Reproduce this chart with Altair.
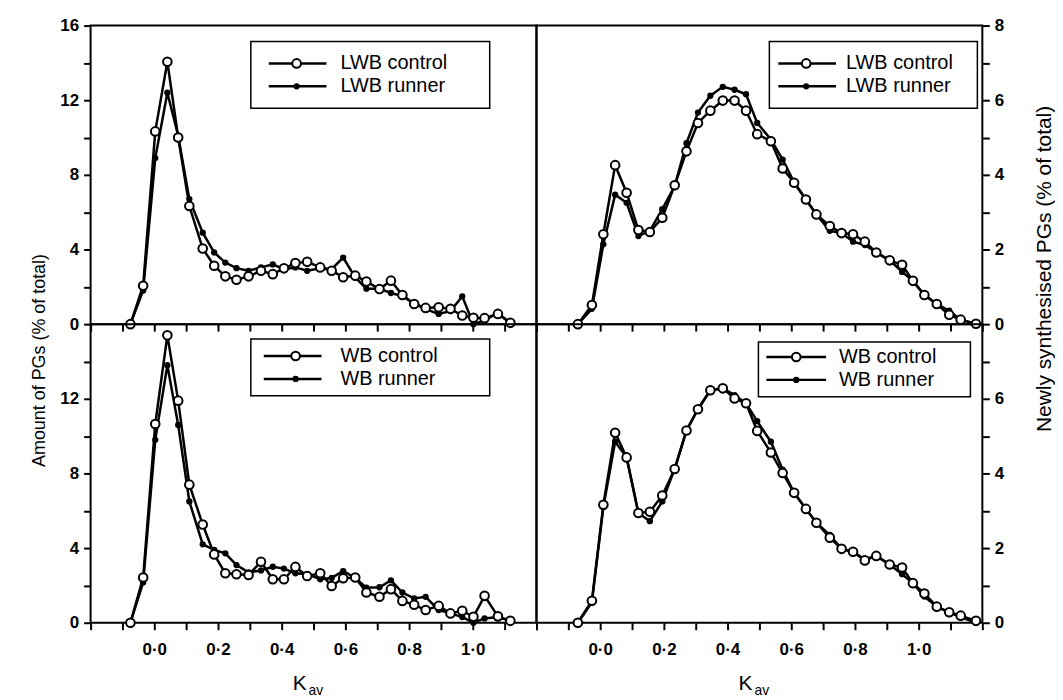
import altair as alt
import pandas as pd

# ---------------- data ----------------
KAV_LEFT = [-0.075, -0.035, 0.003, 0.041, 0.075, 0.11, 0.152, 0.188, 0.223, 0.258,
            0.296, 0.335, 0.372, 0.407, 0.443, 0.48, 0.521, 0.557, 0.593, 0.631,
            0.666, 0.707, 0.743, 0.779, 0.816, 0.852, 0.893, 0.93, 0.967, 1.002,
            1.037, 1.079, 1.118]
LWB_CTRL_AMT = [0, 2.06, 10.33, 14.06, 10.0, 6.33, 4.05, 3.13, 2.56, 2.38,
                2.56, 2.86, 2.68, 2.99, 3.27, 3.34, 3.04, 2.86, 2.51, 2.6,
                2.28, 1.88, 2.33, 1.56, 1.08, 0.87, 0.9, 0.82, 0.46, 0.34,
                0.32, 0.55, 0.07]
LWB_RUN_AMT = [0, 1.8, 8.9, 12.4, 10.1, 6.7, 4.9, 3.84, 3.3, 3.0,
               2.86, 3.04, 3.2, 2.95, 3.04, 2.86, 3.0, 2.95, 3.57, 2.5,
               1.9, 1.9, 1.67, 1.5, 1.1, 0.8, 0.55, 0.7, 1.49, 0.0,
               0.2, 0.6, 0.05]
WB_CTRL_AMT = [0, 2.42, 10.65, 15.4, 11.9, 7.4, 5.26, 3.66, 2.65, 2.6,
               2.56, 3.27, 2.33, 2.33, 2.99, 2.5, 2.65, 1.97, 2.38, 2.42,
               1.62, 1.39, 1.8, 1.17, 0.96, 0.68, 0.9, 0.5, 0.64, 0.32,
               1.44, 0.34, 0.1]
WB_RUN_AMT = [0, 2.15, 9.8, 13.8, 10.6, 6.5, 4.2, 3.9, 3.72, 3.09,
              2.7, 2.8, 3.0, 2.9, 2.65, 2.6, 2.33, 2.4, 2.77, 2.4,
              1.88, 1.9, 2.27, 1.62, 1.3, 1.39, 0.68, 0.5, 0.3, 0.0,
              0.23, 0.3, 0.1]

KAV_RIGHT = [-0.07, -0.026, 0.01, 0.047, 0.083, 0.12, 0.156, 0.195, 0.234, 0.271,
             0.307, 0.346, 0.385, 0.422, 0.458, 0.493, 0.536, 0.573, 0.609, 0.646,
             0.679, 0.721, 0.758, 0.794, 0.831, 0.867, 0.909, 0.948, 0.982, 1.018,
             1.057, 1.096, 1.132, 1.18]
LWB_CTRL_NEW = [0, 0.51, 2.41, 4.26, 3.52, 2.52, 2.47, 2.85, 3.72, 4.63,
                5.39, 5.72, 5.99, 5.99, 5.72, 5.09, 4.9, 4.17, 3.79, 3.34,
                2.94, 2.63, 2.44, 2.41, 2.21, 1.92, 1.71, 1.59, 1.16, 0.78,
                0.54, 0.25, 0.12, 0.01]
LWB_RUN_NEW = [0, 0.41, 2.14, 3.47, 3.25, 2.36, 2.5, 3.08, 3.7, 4.85,
               5.67, 6.12, 6.36, 6.28, 6.16, 5.39, 4.95, 4.41, 3.8, 3.34,
               2.94, 2.5, 2.44, 2.21, 2.12, 1.92, 1.71, 1.4, 1.16, 0.78,
               0.54, 0.36, 0.12, 0.0]
WB_CTRL_NEW = [0, 0.59, 3.16, 5.09, 4.43, 2.94, 2.97, 3.41, 4.12, 5.15,
               5.72, 6.23, 6.28, 6.01, 5.88, 5.14, 4.56, 4.01, 3.48, 3.05,
               2.68, 2.28, 1.98, 1.9, 1.67, 1.79, 1.56, 1.48, 1.06, 0.78,
               0.43, 0.28, 0.19, 0.05]
WB_RUN_NEW = [0, 0.55, 3.1, 4.85, 4.43, 2.94, 2.72, 3.25, 4.12, 5.15,
              5.72, 6.23, 6.28, 6.1, 5.88, 5.4, 4.85, 4.1, 3.48, 3.05,
              2.68, 2.35, 1.98, 1.9, 1.7, 1.79, 1.56, 1.3, 1.06, 0.7,
              0.43, 0.28, 0.15, 0.0]

X_TICKS = [-0.2, -0.1, 0.0, 0.1, 0.2, 0.3, 0.4, 0.5, 0.6, 0.7, 0.8, 0.9, 1.0, 1.1, 1.2]
LEFT_TICKS_TOP = [0, 2, 4, 6, 8, 10, 12, 14, 16]
LEFT_TICKS_BOT = [0, 2, 4, 6, 8, 10, 12, 14]
RIGHT_TICKS_TOP = [0, 1, 2, 3, 4, 5, 6, 7, 8]
RIGHT_TICKS_BOT = [0, 1, 2, 3, 4, 5, 6, 7]

LEFT_TITLE = "Amount of PGs (% of total)"
RIGHT_TITLE = "Newly synthesised PGs (% of total)"

# ---------------- styling ----------------
FONT = "Liberation Sans"
W, H = 448, 300
TICK = dict(tickSize=7, tickWidth=2, tickColor="black", domain=False, grid=False)
ONE = pd.DataFrame({"a": [0]})


def decor_text(txt, x, y, size, align="left", weight="normal", baseline="middle"):
    return alt.Chart(ONE).mark_text(
        align=align, baseline=baseline, fontSize=size, font=FONT,
        fontWeight=weight, color="black"
    ).encode(x=alt.value(x), y=alt.value(y), text=alt.value(txt))


def legend(names, box, rows, line, marker, textx):
    bx0, bx1, by0, by1 = box
    layers = [
        alt.Chart(ONE).mark_rect(fill="white", stroke="black", strokeWidth=1.5).encode(
            x=alt.value(bx0), x2=alt.value(bx1), y=alt.value(by0), y2=alt.value(by1))
    ]
    for i, ry in enumerate(rows):
        layers.append(alt.Chart(ONE).mark_rule(color="black", strokeWidth=2.5).encode(
            x=alt.value(line[0]), x2=alt.value(line[1]), y=alt.value(ry)))
        if i == 0:
            layers.append(alt.Chart(ONE).mark_circle(
                fill="white", stroke="black", strokeWidth=2, size=75, opacity=1).encode(
                x=alt.value(marker), y=alt.value(ry)))
        else:
            layers.append(alt.Chart(ONE).mark_circle(
                color="black", size=40, opacity=1).encode(
                x=alt.value(marker), y=alt.value(ry)))
        layers.append(decor_text(names[i], textx, ry, 20))
    return layers


def panel(kav, ctrl, run, ymax, yticks, label_mod, top, right, names, leg, title=None):
    dfc = pd.DataFrame({"Kav": kav, "value": ctrl})
    dfr = pd.DataFrame({"Kav": kav, "value": run})

    if top:
        xaxis = alt.Axis(values=X_TICKS, labels=False, title=None, **TICK)
    else:
        xaxis = alt.Axis(
            values=X_TICKS, title=None, labelFont=FONT, labelFontSize=17,
            labelFontWeight="bold", labelColor="black", labelPadding=12,
            labelExpr="(datum.value > -0.05 && datum.value < 1.05 && "
                      "round(datum.value*10) % 2 == 0) ? "
                      "replace(format(datum.value, '.1f'), '.', '\u00b7') : ''",
            **TICK)

    yargs = dict(
        values=yticks, orient="right" if right else "left",
        labelFont=FONT, labelFontSize=17, labelFontWeight="bold",
        labelColor="black", labelPadding=5,
        labelExpr=f"datum.value % {label_mod} == 0 ? datum.label : ''",
        **TICK)
    if title is not None:
        yargs.update(title=title, titleFont=FONT,
                     titleFontSize=21 if right else 18,
                     titleFontWeight="normal", titleColor="black",
                     titleAngle=270, titleBaseline="bottom", titleAlign="center",
                     titleX=72 if right else -42, titleY=244 if right else 336)
    else:
        yargs.update(title=None)
    yaxis = alt.Axis(**yargs)

    xenc = alt.X("Kav:Q", scale=alt.Scale(domain=[-0.2, 1.2], nice=False, zero=False), axis=xaxis)
    yenc = alt.Y("value:Q", scale=alt.Scale(domain=[0, ymax], nice=False), axis=yaxis)

    layers = [
        alt.Chart(dfr).mark_line(color="black", strokeWidth=2.5).encode(x=xenc, y=yenc),
        alt.Chart(dfr).mark_circle(color="black", size=40, opacity=1).encode(x=xenc, y=yenc),
        alt.Chart(dfc).mark_line(color="black", strokeWidth=2.5).encode(x=xenc, y=yenc),
        alt.Chart(dfc).mark_circle(fill="white", stroke="black", strokeWidth=2,
                                   size=75, opacity=1).encode(x=xenc, y=yenc),
    ]
    layers += legend(names, **leg)
    if not top:
        layers.append(decor_text("K", 210, 368, 21, align="center", baseline="alphabetic"))
        layers.append(decor_text("av", 219, 373, 14, align="left", baseline="alphabetic"))
    return alt.layer(*layers).properties(width=W, height=H)


tl = panel(KAV_LEFT, LWB_CTRL_AMT, LWB_RUN_AMT, 16, LEFT_TICKS_TOP, 4, True, False,
           ["LWB control", "LWB runner"],
           dict(box=(161, 401, 16, 83), rows=[38, 61], line=(179, 237), marker=207, textx=251),
           title=LEFT_TITLE)
tr = panel(KAV_RIGHT, LWB_CTRL_NEW, LWB_RUN_NEW, 8, RIGHT_TICKS_TOP, 2, True, True,
           ["LWB control", "LWB runner"],
           dict(box=(234, 443, 16, 83), rows=[38, 61], line=(243, 301), marker=271, textx=311),
           title=RIGHT_TITLE)
bl = panel(KAV_LEFT, WB_CTRL_AMT, WB_RUN_AMT, 16, LEFT_TICKS_BOT, 4, False, False,
           ["WB control", "WB runner"],
           dict(box=(161, 401, 15, 72), rows=[32, 55], line=(174, 232), marker=206, textx=251))
br = panel(KAV_RIGHT, WB_CTRL_NEW, WB_RUN_NEW, 8, RIGHT_TICKS_BOT, 2, False, True,
           ["WB control", "WB runner"],
           dict(box=(223, 436, 18, 73), rows=[33, 56], line=(231, 291), marker=261, textx=304))

chart = alt.concat(tl, tr, bl, br, columns=2, spacing=0, bounds="flush").properties(
    padding={"left": 22, "top": 6, "right": 0, "bottom": 0},
    background="white",
).configure_view(stroke="black", strokeWidth=2)

chart.save("out.html", embed_options={"renderer": "svg", "actions": False})
